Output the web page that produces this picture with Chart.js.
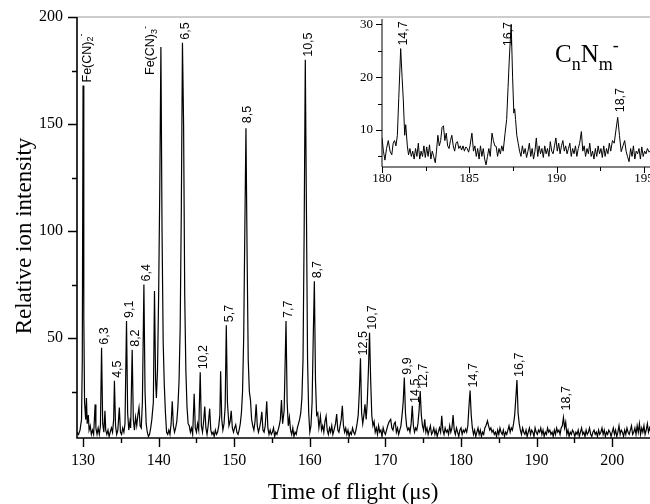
<!DOCTYPE html>
<html>
<head>
<meta charset="utf-8">
<script src="https://cdn.jsdelivr.net/npm/chart.js@4.4.1/dist/chart.umd.min.js"></script>
<style>
    html, body { margin: 0; padding: 0; background: #fff; }
    #wrap { position: relative; width: 650px; height: 504px; overflow: hidden; }
    #main-chart { position: absolute; left: 0; top: 0; }
    #inset-chart { position: absolute; left: 340px; top: 10px; }
</style>
</head>
<body>
<div id="wrap">
    <canvas id="main-chart" width="650" height="504"></canvas>
    <canvas id="inset-chart" width="310" height="190"></canvas>
</div>
<script>
// Main spectrum: [time of flight (us), relative ion intensity].
const mainTrace = [
    [129.2, 6], [129.4, 5], [129.6, 7], [129.8, 12], [129.9, 40], [130.0, 168], [130.1, 60], [130.2, 20],
    [130.35, 12], [130.45, 22], [130.55, 10], [130.7, 14], [130.8, 7], [130.95, 9], [131.1, 5], [131.25, 7],
    [131.4, 5], [131.6, 19], [131.7, 8], [131.85, 5], [132.0, 8], [132.15, 5], [132.3, 9], [132.45, 45.5],
    [132.6, 10], [132.75, 6], [132.9, 16], [133.0, 7], [133.15, 5], [133.3, 7], [133.45, 4], [133.6, 6],
    [133.75, 8], [133.9, 6], [134.05, 12], [134.15, 30], [134.3, 9], [134.45, 5], [134.6, 7], [134.8, 17.5],
    [134.95, 6], [135.1, 5], [135.25, 8], [135.4, 6], [135.55, 10], [135.75, 58], [135.9, 15], [136.05, 7],
    [136.2, 11], [136.3, 8], [136.5, 44.5], [136.65, 12], [136.8, 7], [136.95, 13], [137.1, 9], [137.25, 14],
    [137.4, 17.5], [137.55, 9], [137.7, 8], [137.85, 20], [138.05, 75], [138.2, 25], [138.35, 10], [138.5, 6],
    [138.65, 4], [138.8, 5], [138.95, 8], [139.1, 12], [139.3, 20], [139.45, 72], [139.6, 30], [139.7, 22],
    [139.85, 35], [140.0, 70], [140.15, 120], [140.3, 186], [140.45, 100], [140.6, 48], [140.75, 28], [140.9, 15],
    [141.05, 6], [141.2, 5], [141.35, 7], [141.5, 5], [141.65, 10], [141.8, 20.5], [141.95, 9], [142.1, 6],
    [142.25, 8], [142.4, 11], [142.55, 18], [142.7, 30], [142.85, 55], [143.0, 110], [143.15, 188], [143.3, 150],
    [143.45, 70], [143.6, 35], [143.75, 18], [143.9, 10], [144.05, 9], [144.2, 6], [144.35, 8], [144.5, 5],
    [144.7, 24], [144.85, 8], [145.0, 6], [145.15, 10], [145.3, 7], [145.5, 34], [145.65, 9], [145.8, 6],
    [145.95, 11], [146.1, 18], [146.25, 8], [146.4, 5], [146.55, 9], [146.75, 17], [146.9, 7], [147.05, 5],
    [147.2, 6], [147.35, 4], [147.5, 7], [147.65, 5], [147.8, 6], [147.95, 9], [148.1, 14], [148.2, 34.5],
    [148.35, 12], [148.5, 7], [148.65, 10], [148.8, 18], [148.95, 56], [149.1, 20], [149.3, 9], [149.45, 11],
    [149.6, 16], [149.75, 8], [149.9, 6], [150.05, 8], [150.2, 9.5], [150.35, 6], [150.5, 5], [150.65, 7],
    [150.8, 10], [150.95, 15], [151.1, 25], [151.25, 50], [151.4, 100], [151.55, 148], [151.7, 90], [151.85, 40],
    [152.0, 25], [152.15, 21], [152.3, 12], [152.45, 9], [152.6, 7], [152.75, 11], [152.9, 19], [153.05, 9],
    [153.2, 6], [153.35, 8], [153.5, 11], [153.65, 15.5], [153.8, 7], [153.95, 6], [154.1, 9], [154.3, 20.5],
    [154.45, 8], [154.6, 5], [154.75, 7], [154.9, 5], [155.05, 6], [155.2, 8], [155.35, 4], [155.5, 6],
    [155.65, 5], [155.8, 7], [155.95, 9], [156.1, 12], [156.25, 21], [156.4, 10], [156.6, 16], [156.85, 58],
    [157.0, 20], [157.15, 9], [157.3, 13], [157.45, 7], [157.6, 5], [157.75, 8], [157.9, 4], [158.05, 6],
    [158.2, 5], [158.35, 8], [158.5, 10], [158.65, 12], [158.8, 15], [158.95, 22], [159.1, 40], [159.25, 100],
    [159.4, 180], [159.55, 110], [159.7, 40], [159.85, 15], [160.0, 6], [160.15, 9], [160.3, 20], [160.45, 50],
    [160.6, 76.5], [160.75, 30], [160.9, 14], [161.05, 15], [161.2, 8], [161.4, 13.5], [161.55, 7], [161.7, 9],
    [161.85, 6], [162.0, 11], [162.15, 13.5], [162.3, 7], [162.45, 5], [162.6, 8], [162.75, 6], [162.9, 9],
    [163.05, 5], [163.2, 7], [163.4, 10], [163.55, 14.5], [163.7, 7], [163.85, 6], [164.0, 9], [164.15, 12],
    [164.3, 18.3], [164.45, 9], [164.6, 6], [164.75, 8], [164.9, 5], [165.05, 7], [165.2, 4], [165.35, 6],
    [165.5, 5], [165.65, 8], [165.8, 6], [165.95, 5], [166.1, 7], [166.25, 10], [166.4, 14], [166.55, 25],
    [166.7, 40.5], [166.85, 15], [167.0, 10], [167.15, 14], [167.3, 19], [167.45, 12], [167.6, 20], [167.75, 35],
    [167.9, 52.5], [168.05, 30], [168.2, 13.7], [168.35, 9], [168.5, 11], [168.65, 6], [168.8, 8], [168.95, 5],
    [169.1, 9], [169.25, 6], [169.4, 7], [169.55, 4], [169.7, 8], [169.85, 6], [170.0, 5], [170.15, 7],
    [170.3, 9], [170.5, 11], [170.7, 12], [170.85, 8], [171.0, 7], [171.15, 10], [171.3, 10.7], [171.45, 6],
    [171.6, 8], [171.75, 5], [171.9, 7], [172.05, 9], [172.2, 14], [172.35, 20], [172.5, 31.5], [172.65, 15],
    [172.8, 9], [172.95, 7], [173.1, 8], [173.25, 6], [173.4, 10], [173.55, 18.3], [173.7, 9], [173.85, 6],
    [174.0, 8], [174.15, 7], [174.3, 10], [174.45, 16], [174.6, 25.3], [174.75, 14], [174.9, 9], [175.05, 7],
    [175.2, 12], [175.35, 6], [175.5, 8], [175.65, 5], [175.8, 7], [175.95, 9], [176.1, 5], [176.25, 6],
    [176.4, 8], [176.55, 5], [176.7, 7], [176.85, 4], [177.0, 6], [177.15, 8], [177.3, 6], [177.45, 13.7],
    [177.6, 7], [177.75, 5], [177.9, 8], [178.05, 6], [178.2, 7], [178.35, 5], [178.5, 9], [178.65, 6],
    [178.8, 8], [178.95, 14], [179.1, 7], [179.25, 5], [179.4, 8], [179.55, 6], [179.7, 4], [179.85, 7],
    [180.0, 8], [180.15, 5], [180.3, 7], [180.45, 6], [180.6, 7.5], [180.75, 6], [180.9, 9], [181.05, 18],
    [181.2, 25.5], [181.35, 14], [181.5, 8], [181.65, 5], [181.8, 7], [181.95, 4], [182.1, 6], [182.25, 8],
    [182.4, 5], [182.55, 7], [182.7, 4], [182.85, 6], [183.0, 5], [183.15, 8], [183.3, 9], [183.5, 11.3],
    [183.65, 9], [183.8, 7], [183.95, 8], [184.1, 6], [184.25, 7], [184.4, 5], [184.55, 6], [184.7, 4],
    [184.85, 7], [185.0, 5], [185.15, 8], [185.3, 6], [185.45, 5], [185.6, 7], [185.75, 4], [185.9, 6],
    [186.05, 5], [186.2, 7], [186.35, 9], [186.5, 6], [186.65, 8], [186.8, 7], [186.95, 10], [187.1, 14],
    [187.25, 22], [187.4, 30.4], [187.55, 15], [187.7, 10], [187.85, 7], [188.0, 5], [188.15, 8], [188.3, 6],
    [188.45, 5], [188.6, 7], [188.75, 4], [188.9, 6], [189.05, 8], [189.2, 5], [189.35, 7], [189.5, 6],
    [189.65, 4], [189.8, 8], [189.95, 6], [190.1, 5], [190.25, 7], [190.4, 6], [190.55, 8], [190.7, 5],
    [190.85, 7], [191.0, 4], [191.15, 6], [191.3, 5], [191.45, 8], [191.6, 6], [191.75, 7], [191.9, 5],
    [192.05, 6], [192.2, 4], [192.35, 7], [192.5, 5], [192.65, 8], [192.8, 6], [192.95, 7], [193.1, 5],
    [193.25, 8], [193.4, 9], [193.55, 12.9], [193.7, 8], [193.85, 10.7], [194.0, 5], [194.15, 7], [194.3, 4],
    [194.45, 6], [194.6, 5], [194.75, 7], [194.9, 6], [195.05, 4], [195.2, 6], [195.35, 5], [195.5, 7],
    [195.65, 4], [195.8, 6], [195.95, 8], [196.1, 5], [196.25, 6], [196.4, 4], [196.55, 7], [196.7, 5],
    [196.85, 6], [197.0, 8], [197.15, 5], [197.3, 4], [197.45, 6], [197.6, 7], [197.75, 5], [197.9, 6],
    [198.05, 4], [198.2, 7], [198.35, 5], [198.5, 6], [198.65, 8], [198.8, 5], [198.95, 7], [199.1, 4],
    [199.25, 6], [199.4, 5], [199.55, 7], [199.7, 6], [199.85, 4], [200.0, 6], [200.15, 8], [200.3, 5],
    [200.45, 7], [200.6, 4], [200.75, 6], [200.9, 9], [201.05, 5], [201.2, 7], [201.35, 6], [201.5, 4],
    [201.65, 7], [201.8, 5], [201.95, 8], [202.1, 6], [202.25, 5], [202.4, 7], [202.55, 9], [202.7, 5],
    [202.85, 6], [203.0, 8], [203.15, 5], [203.3, 9], [203.45, 6], [203.6, 10], [203.75, 5], [203.9, 8],
    [204.05, 6], [204.2, 9], [204.35, 5], [204.5, 7], [204.65, 10], [204.8, 6], [204.95, 8], [205.1, 6]
];

// Inset (zoom on 180-195 us).
const insetTrace = [
    [180.0, 8.5], [180.08, 6], [180.17, 4.3], [180.26, 6.5], [180.36, 8], [180.46, 6], [180.56, 5.3], [180.64, 7.5],
    [180.72, 8], [180.8, 7], [180.88, 9], [180.96, 16], [181.07, 25.4], [181.15, 20], [181.22, 15.7], [181.3, 9],
    [181.36, 11], [181.45, 7], [181.52, 5.3], [181.6, 6.5], [181.68, 5], [181.76, 6], [181.84, 4.5], [181.92, 6.5],
    [182.0, 5], [182.08, 7.5], [182.16, 4.5], [182.24, 6], [182.32, 5], [182.4, 7], [182.48, 4.8], [182.56, 6.8],
    [182.64, 5], [182.72, 7.2], [182.8, 4.5], [182.88, 6], [182.96, 5], [183.05, 3.8], [183.12, 6], [183.2, 9],
    [183.28, 7], [183.36, 8], [183.44, 10.5], [183.52, 10.8], [183.6, 8], [183.68, 9.4], [183.76, 7], [183.84, 6.5],
    [183.92, 8], [184.0, 9], [184.08, 7], [184.16, 6], [184.24, 7.5], [184.32, 7.8], [184.4, 6.5], [184.48, 7],
    [184.56, 6.2], [184.64, 7], [184.72, 6], [184.8, 6.8], [184.88, 6.5], [184.96, 5.8], [185.04, 7], [185.15, 9.4],
    [185.24, 6], [185.32, 7], [185.4, 5], [185.48, 6.5], [185.56, 4.5], [185.64, 7], [185.72, 5], [185.8, 6.5],
    [185.88, 4.5], [185.96, 3.4], [186.04, 5], [186.12, 6.5], [186.2, 5], [186.3, 9.4], [186.38, 8], [186.46, 7],
    [186.54, 6.9], [186.62, 5], [186.7, 6.5], [186.78, 5.5], [186.86, 7], [186.94, 6], [187.05, 9.4], [187.14, 12],
    [187.22, 18], [187.3, 24], [187.4, 30], [187.48, 20], [187.55, 13.2], [187.6, 14], [187.65, 12], [187.72, 9],
    [187.8, 7.5], [187.88, 6], [187.96, 5], [188.04, 7], [188.12, 5.5], [188.2, 6.5], [188.28, 4.8], [188.36, 6],
    [188.44, 7.5], [188.52, 5], [188.6, 6.5], [188.68, 4.5], [188.76, 6], [188.84, 8.5], [188.92, 5], [189.0, 7],
    [189.08, 5.5], [189.16, 6.5], [189.24, 4.8], [189.32, 7], [189.4, 5.5], [189.48, 6.5], [189.56, 5], [189.64, 7.8],
    [189.72, 6], [189.8, 5.5], [189.88, 7], [189.96, 8.5], [190.04, 6], [190.12, 7.5], [190.2, 5.5], [190.28, 7],
    [190.36, 8], [190.44, 6], [190.52, 7], [190.6, 5.5], [190.68, 6.5], [190.76, 7.5], [190.84, 5], [190.92, 6.5],
    [191.0, 5.5], [191.08, 7], [191.16, 5], [191.24, 6.5], [191.32, 7.5], [191.42, 9.7], [191.5, 6], [191.58, 7],
    [191.66, 5], [191.74, 6.5], [191.82, 5.5], [191.9, 7.5], [191.98, 5], [192.06, 6], [192.14, 4.5], [192.22, 6.5],
    [192.3, 5], [192.38, 7], [192.46, 5.5], [192.54, 6.5], [192.62, 4.8], [192.7, 7], [192.78, 5], [192.86, 6.5],
    [192.94, 5.5], [193.02, 7.5], [193.1, 6], [193.2, 8], [193.3, 7.5], [193.4, 10], [193.5, 12.4], [193.6, 9],
    [193.7, 5.9], [193.8, 7], [193.9, 8], [193.98, 6], [194.06, 5], [194.15, 4], [194.24, 6.5], [194.32, 5],
    [194.4, 7], [194.48, 4.5], [194.56, 6], [194.64, 5.5], [194.72, 6.5], [194.8, 4.5], [194.88, 6.8], [194.96, 5],
    [195.04, 6], [195.12, 5.5], [195.2, 6.5], [195.3, 5.8], [195.4, 6.2]
];

// Peak assignments (n,m) and where they sit.
const mainPeakNames = ['Fe(CN)_2^-', '6,3', '4,5', '9,1', '8,2', '6,4', 'Fe(CN)_3^-', '6,5', '10,2', '5,7', '8,5',
    '7,7', '10,5', '8,7', '12,5', '10,7', '9,9', '14,5', '12,7', '14,7', '16,7', '18,7'];
const mainPeakTimes = [130.0, 132.45, 134.15, 135.75, 136.5, 138.05, 140.3, 143.15, 145.5, 148.95, 151.55,
    156.85, 159.4, 160.6, 166.7, 167.9, 172.5, 173.55, 174.6, 181.2, 187.4, 193.55];
const mainPeakHeights = [168, 45.5, 30, 58, 44.5, 75, 186, 188, 34, 56, 148,
    58, 180, 76.5, 40.5, 52.5, 31.5, 18.3, 25.3, 25.5, 30.4, 12.9];

const insetPeakNames = ['14,7', '16,7', '18,7'];
const insetPeakTimes = [181.07, 187.4, 193.5];
const insetPeakHeights = [25.4, 30, 12.4];

// Tick values.
const mainXMajor = [130, 140, 150, 160, 170, 180, 190, 200];
const mainXMinor = [135, 145, 155, 165, 175, 185, 195, 205];
const mainYMajor = [50, 100, 150, 200];
const mainYMinor = [25, 75, 125, 175];
const insetXMajor = [180, 185, 190, 195];
const insetXMinor = [182.5, 187.5, 192.5];
const insetYMajor = [10, 20, 30];
const insetYMinor = [5, 15, 25];

const serif = '"Liberation Serif", "Times New Roman", serif';
const sans = '"Liberation Sans", Arial, sans-serif';

// Draws text where "_x" is a subscript and "^x" a superscript.

function drawRich(ctx, text, size, family) {
    let x = 0;
    for (let i = 0; i < text.length; i++) {
        let ch = text[i];
        let shift = 0;
        let s = size;
        if ((ch === '_' || ch === '^') && i + 1 < text.length) {
            shift = ch === '_' ? size * 0.3 : -size * 0.45;
            s = size * 0.72;
            ch = text[++i];
        }
        ctx.font = `${s}px ${family}`;
        ctx.fillText(ch, x, shift);
        x += ctx.measureText(ch).width;
    }
}

// Keeps the plot area where it is: no extra room for edge tick labels.

function pinScale(size) {
    return scale => {
        if (scale.isHorizontal()) {
            scale.height = size;
        } else {
            scale.width = size;
        }
        scale.paddingTop = 0;
        scale.paddingBottom = 0;
        scale.paddingLeft = 0;
        scale.paddingRight = 0;
    };
}

// Axis lines and tick marks.

const frame = {
    id: 'frame',
    afterDraw(chart, args, opts) {
        const { ctx, chartArea: a, scales: { x, y } } = chart;
        ctx.save();
        if (opts.topLine) {
            ctx.strokeStyle = '#999';
            ctx.lineWidth = 1.2;
            ctx.beginPath();
            ctx.moveTo(a.left, a.top);
            ctx.lineTo(a.right, a.top);
            ctx.stroke();
        }
        ctx.strokeStyle = '#000';
        ctx.lineWidth = opts.axisWidth;
        ctx.beginPath();
        ctx.moveTo(a.left, a.top);
        ctx.lineTo(a.left, a.bottom);
        ctx.lineTo(a.right, a.bottom);
        ctx.stroke();

        ctx.lineWidth = opts.tickWidth;
        ctx.beginPath();
        opts.xMajor.forEach(v => {
            const px = Math.round(x.getPixelForValue(v)) + 0.5;
            ctx.moveTo(px, a.bottom); ctx.lineTo(px, a.bottom + opts.major);
        });
        opts.xMinor.forEach(v => {
            const px = Math.round(x.getPixelForValue(v)) + 0.5;
            if (px > a.right) return;
            ctx.moveTo(px, a.bottom); ctx.lineTo(px, a.bottom + opts.minor);
        });
        opts.yMajor.forEach(v => {
            const py = Math.round(y.getPixelForValue(v)) + 0.5;
            ctx.moveTo(a.left, py); ctx.lineTo(a.left - opts.major, py);
        });
        opts.yMinor.forEach(v => {
            const py = Math.round(y.getPixelForValue(v)) + 0.5;
            ctx.moveTo(a.left, py); ctx.lineTo(a.left - opts.minor, py);
        });
        ctx.stroke();
        ctx.restore();
    }
};

// Rotated peak assignments.

const peakLabels = {
    id: 'peakLabels',
    afterDraw(chart, args, opts) {
        const { ctx, scales: { x, y } } = chart;
        ctx.save();
        ctx.fillStyle = '#000';
        ctx.textAlign = 'left';
        ctx.textBaseline = 'middle';
        opts.names.forEach((name, i) => {
            const shift = opts.shifts[name] || [3, -3];
            ctx.save();
            ctx.translate(x.getPixelForValue(opts.times[i]) + shift[0], y.getPixelForValue(opts.heights[i]) + shift[1]);
            ctx.rotate(-Math.PI / 2);
            drawRich(ctx, name, opts.size, sans);
            ctx.restore();
        });
        ctx.restore();
    }
};

// Axis titles and the species label.

const titles = {
    id: 'titles',
    afterDraw(chart) {
        const { ctx } = chart;
        ctx.save();
        ctx.fillStyle = '#000';
        ctx.textBaseline = 'alphabetic';
        ctx.font = `23px ${serif}`;
        ctx.textAlign = 'center';
        ctx.fillText('Time of flight (\u03bcs)', 353, 499);
        ctx.save();
        ctx.translate(31, 236);
        ctx.rotate(-Math.PI / 2);
        ctx.fillText('Relative ion intensity', 0, 0);
        ctx.restore();
        ctx.textAlign = 'left';
        ctx.translate(555, 62);
        drawRich(ctx, 'C_nN_m^-', 25, serif);
        ctx.restore();
    }
};

function tickFont(size) {
    return { family: serif, size: size };
}

window.mainChart = new Chart(document.querySelector('#main-chart'), {
    type: 'line',
    data: {
        datasets: [{
            data: mainTrace.map(([t, v]) => ({ x: t, y: v })),
            borderColor: '#000',
            borderWidth: 1.2,
            pointRadius: 0,
            tension: 0,
            fill: false
        }]
    },
    options: {
        responsive: false,
        animation: false,
        layout: { padding: { top: 17, right: 0, left: 0, bottom: 0 } },
        plugins: {
            legend: { display: false },
            tooltip: { enabled: false },
            frame: {
                topLine: true, axisWidth: 1.6, tickWidth: 1.4, major: 9, minor: 5,
                xMajor: mainXMajor, xMinor: mainXMinor, yMajor: mainYMajor, yMinor: mainYMinor
            },
            peakLabels: {
                names: mainPeakNames, times: mainPeakTimes, heights: mainPeakHeights, size: 12.5,
                shifts: { 'Fe(CN)_2^-': [4, -3], 'Fe(CN)_3^-': [-10, 28], '18,7': [3, -7], '8,5': [2, -5] }
            }
        },
        scales: {
            x: {
                type: 'linear',
                min: 129.2,
                max: 205,
                afterFit: pinScale(66),
                grid: { display: false, drawTicks: false },
                border: { display: false },
                ticks: { stepSize: 10, includeBounds: false, color: '#000', font: tickFont(16), padding: 13, maxRotation: 0 }
            },
            y: {
                min: 3.3,
                max: 200,
                afterFit: pinScale(77),
                grid: { display: false, drawTicks: false },
                border: { display: false },
                ticks: { stepSize: 50, includeBounds: false, color: '#000', font: tickFont(16), padding: 14 }
            }
        }
    },
    plugins: [frame, peakLabels, titles]
});

window.insetChart = new Chart(document.querySelector('#inset-chart'), {
    type: 'line',
    data: {
        datasets: [{
            data: insetTrace.map(([t, v]) => ({ x: t, y: v })),
            borderColor: '#000',
            borderWidth: 1,
            pointRadius: 0,
            tension: 0,
            fill: false
        }]
    },
    options: {
        responsive: false,
        animation: false,
        layout: { padding: { top: 9, right: 0, left: 0, bottom: 0 } },
        plugins: {
            legend: { display: false },
            tooltip: { enabled: false },
            frame: {
                topLine: false, axisWidth: 1, tickWidth: 1, major: 6, minor: 4,
                xMajor: insetXMajor, xMinor: insetXMinor, yMajor: insetYMajor, yMinor: insetYMinor
            },
            peakLabels: {
                names: insetPeakNames, times: insetPeakTimes, heights: insetPeakHeights, size: 12.5,
                shifts: { '16,7': [-3, 22], '18,7': [3, -5] }
            }
        },
        scales: {
            x: {
                type: 'linear',
                min: 180,
                max: 195.35,
                afterFit: pinScale(33),
                grid: { display: false, drawTicks: false },
                border: { display: false },
                ticks: { stepSize: 5, includeBounds: false, color: '#000', font: tickFont(13), padding: 4, maxRotation: 0 }
            },
            y: {
                min: 3,
                max: 31,
                afterFit: pinScale(42),
                grid: { display: false, drawTicks: false },
                border: { display: false },
                ticks: { stepSize: 10, includeBounds: false, color: '#000', font: tickFont(13), padding: 9 }
            }
        }
    },
    plugins: [frame, peakLabels]
});
</script>
</body>
</html>
